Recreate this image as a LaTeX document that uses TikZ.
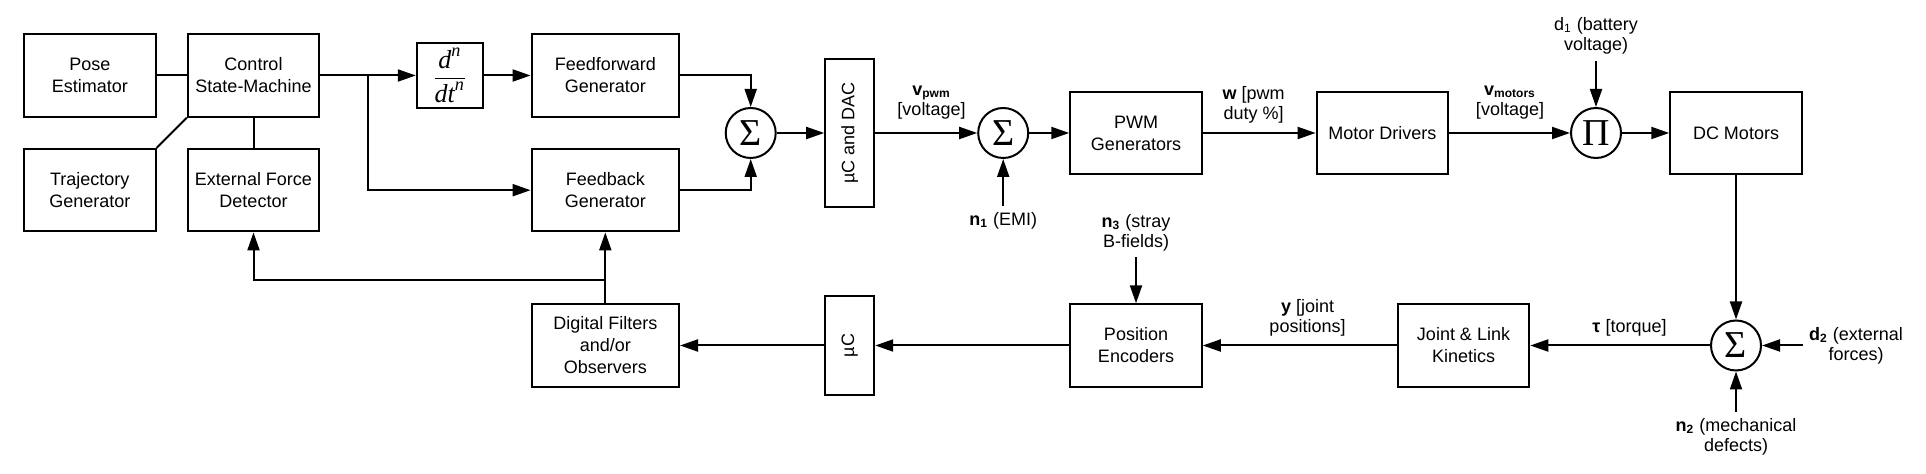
\documentclass[tikz,border=0pt]{standalone}
\usepackage{amsmath}
\usepackage{fontspec}
\setmainfont{Liberation Sans}
\newfontfamily\serifFont{Liberation Serif}
\usepackage{tikz}
\usetikzlibrary{arrows.meta}
\newcommand{\blockFont}{\fontsize{9}{11}\selectfont}
\newcommand{\labelFont}{\fontsize{9}{10}\selectfont}
\newcommand{\opFont}{\serifFont\fontsize{19}{19}\selectfont}
\tikzstyle{pixelGrid} = [x = .5pt, y = -.5pt]
\tikzstyle{blockStyle} = [draw, line width = 1pt, minimum width = 65.75pt, minimum height = 41.2pt, inner sep = 2pt, align = center, font = \blockFont]
\tikzstyle{sumStyle} = [draw, circle, line width = 1pt, minimum size = 25pt, inner sep = 0pt, font = \opFont]
\tikzstyle{signalLine} = [line width = 1pt, -{Triangle[length = 9pt, width = 6pt]}]
\tikzstyle{plainLine} = [line width = 1pt]
\tikzstyle{signalText} = [align = center, font = \labelFont, inner sep = 3pt]
\newcommand{\blockNode}[4]{\node [blockStyle] (#1) at (#2, #3) {#4};}
\newcommand{\wideBlockNode}[4]{\node [blockStyle, minimum width = 73.7pt] (#1) at (#2, #3) {#4};}
\newcommand{\tallBlockNode}[5]{\node [blockStyle, minimum width = 24.5pt, minimum height = #4] (#1) at (#2, #3) {\rotatebox{90}{#5}};}
\newcommand{\sumNode}[4]{\node [sumStyle] (#1) at (#2, #3) {#4};}
\newcommand{\signalLabel}[4]{\node [signalText] (#1) at (#2, #3) {#4};}

\begin{document}
\begin{tikzpicture}[pixelGrid]
  \useasboundingbox (0, 0) rectangle (1926, 474);
  \blockNode{pose}{89.8}{75.5}{Pose\\Estimator}
  \blockNode{control}{253.5}{75.5}{Control\\State-Machine}
  \blockNode{trajectory}{89.8}{190.2}{Trajectory\\Generator}
  \blockNode{forceDetector}{253.5}{190.2}{External Force\\Detector}
  \node [blockStyle, minimum width = 33pt, minimum height = 32.8pt, inner sep = 0pt] (derivative) at (449.8, 75.5) {\serifFont\itshape\fontsize{13}{15}\selectfont$\dfrac{\text{d}^{\text{n}}}{\text{dt}^{\text{n}}}$};
  \wideBlockNode{feedforward}{605.3}{75.5}{Feedforward\\Generator}
  \wideBlockNode{feedback}{605.3}{190.2}{Feedback\\Generator}
  \wideBlockNode{filters}{605.3}{345.5}{Digital Filters\\and/or\\Observers}
  \sumNode{sumControl}{750.7}{133}{Σ}
  \tallBlockNode{dac}{849.7}{133}{73.7pt}{µC and DAC}
  \sumNode{sumNoise}{1003.2}{133}{Σ}
  \blockNode{pwm}{1136}{133}{PWM\\Generators}
  \blockNode{drivers}{1382.4}{133}{Motor Drivers}
  \sumNode{productBattery}{1596}{133}{Π}
  \blockNode{motors}{1736}{133}{DC Motors}
  \sumNode{sumTorque}{1736}{345.5}{Σ}
  \blockNode{kinetics}{1463.5}{345.5}{Joint \& Link\\Kinetics}
  \blockNode{encoders}{1136}{345.5}{Position\\Encoders}
  \tallBlockNode{mcu}{849.7}{345.5}{49.5pt}{µC}

  \signalLabel{vpwmText}{931.5}{103}{\textbf{v\textsubscript{pwm}}\\{[voltage]}}
  \signalLabel{dutyText}{1253.6}{105}{\textbf{w} [pwm\\duty \%]}
  \signalLabel{vmotorsText}{1510}{103}{\textbf{v\textsubscript{motors}}\\{[voltage]}}
  \signalLabel{batteryText}{1596}{36}{d\textsubscript{1} (battery\\voltage)}
  \signalLabel{emiText}{1003.2}{221}{\textbf{n\textsubscript{1}} (EMI)}
  \signalLabel{strayText}{1136}{232.5}{\textbf{n\textsubscript{3}} (stray\\B-fields)}
  \signalLabel{torqueText}{1629.5}{328.3}{\textbf{τ} [torque]}
  \signalLabel{jointText}{1307.5}{317.5}{\textbf{y} [joint\\positions]}
  \signalLabel{externalText}{1856}{345.5}{\textbf{d\textsubscript{2}} (external\\forces)}
  \signalLabel{defectText}{1736}{436.5}{\textbf{n\textsubscript{2}} (mechanical\\defects)}

  \coordinate (controlSplit) at (367.7, 75.5);
  \coordinate (filterSplit) at (605.3, 280);
  \draw [plainLine] (pose) -- (control);
  \draw [plainLine] (trajectory.north east) -- (control.south west);
  \draw [plainLine] (control) -- (forceDetector);
  \draw [signalLine] (control) -- (derivative);
  \draw [signalLine] (controlSplit) |- (feedback);
  \draw [signalLine] (derivative) -- (feedforward);
  \draw [signalLine] (feedforward) -| (sumControl);
  \draw [signalLine] (feedback) -| (sumControl);
  \draw [signalLine] (sumControl) -- (dac);
  \draw [signalLine] (dac) -- (sumNoise);
  \draw [signalLine] (emiText) -- (sumNoise);
  \draw [signalLine] (sumNoise) -- (pwm);
  \draw [signalLine] (pwm) -- (drivers);
  \draw [signalLine] (drivers) -- (productBattery);
  \draw [signalLine] (batteryText) -- (productBattery);
  \draw [signalLine] (productBattery) -- (motors);
  \draw [signalLine] (motors) -- (sumTorque);
  \draw [signalLine] (externalText) -- (sumTorque);
  \draw [signalLine] (defectText) -- (sumTorque);
  \draw [signalLine] (sumTorque) -- (kinetics);
  \draw [signalLine] (kinetics) -- (encoders);
  \draw [signalLine] (strayText) -- (encoders);
  \draw [signalLine] (encoders) -- (mcu);
  \draw [signalLine] (mcu) -- (filters);
  \draw [signalLine] (filters) -- (feedback);
  \draw [signalLine] (filterSplit) -| (forceDetector);
\end{tikzpicture}
\end{document}
